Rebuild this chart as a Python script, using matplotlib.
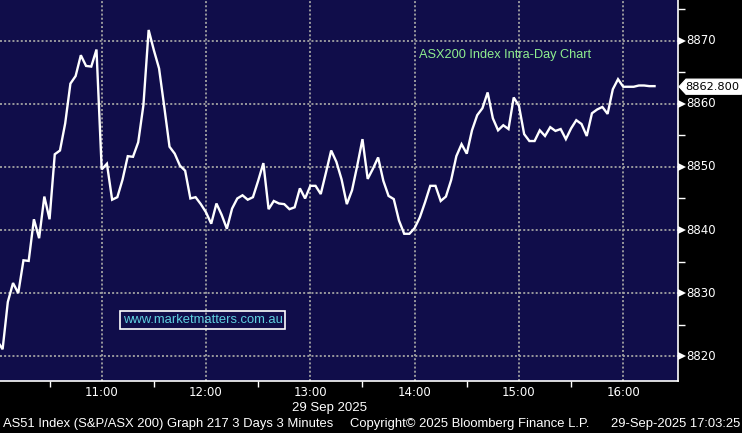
import numpy as np
import matplotlib
matplotlib.use("Agg")
import matplotlib.pyplot as plt
from matplotlib.patches import Polygon, Rectangle
import matplotlib.transforms as mtransforms

# ---- data ----
start_minute = 600          # 10:00
step_minutes = 3
values = [
    8822.4, 8821.1, 8828.6, 8831.6, 8830.0, 8835.2, 8835.1, 8841.7, 8838.7, 8845.3,
    8841.7, 8852.0, 8852.6, 8856.9, 8863.2, 8864.4, 8867.7, 8866.0, 8865.9, 8868.6,
    8849.6, 8850.5, 8844.8, 8845.2, 8848.0, 8851.7, 8851.6, 8853.9, 8859.8, 8871.7,
    8868.5, 8865.6, 8859.5, 8853.2, 8852.1, 8850.2, 8849.4, 8845.0, 8845.2, 8844.1,
    8842.8, 8841.0, 8844.2, 8842.4, 8840.2, 8843.4, 8845.0, 8845.5, 8844.8, 8845.2,
    8847.8, 8850.6, 8843.3, 8844.6, 8844.2, 8844.1, 8843.3, 8843.6, 8846.6, 8845.0,
    8847.0, 8847.0, 8845.7, 8849.1, 8852.6, 8850.8, 8848.0, 8844.1, 8846.3, 8850.2,
    8854.4, 8848.1, 8849.7, 8851.5, 8847.8, 8845.4, 8844.9, 8841.5, 8839.4, 8839.4,
    8840.3, 8842.0, 8844.4, 8847.0, 8847.0, 8844.6, 8845.3, 8847.9, 8851.7, 8853.6,
    8852.1, 8855.8, 8858.2, 8859.3, 8861.8, 8857.7, 8855.8, 8856.6, 8856.0, 8861.0,
    8859.7, 8855.2, 8854.1, 8854.1, 8855.8, 8854.9, 8856.3, 8855.7, 8856.0, 8854.4,
    8856.1, 8857.4, 8856.8, 8854.9, 8858.5, 8859.1, 8859.5, 8858.4, 8862.3, 8863.9,
    8862.7, 8862.7, 8862.7, 8862.9, 8862.9, 8862.8, 8862.8,
]
last_price = 8862.8
hour_ticks = [660, 720, 780, 840, 900, 960]
hour_labels = ["11:00", "12:00", "13:00", "14:00", "15:00", "16:00"]
half_hour_ticks = [630, 690, 750, 810, 870, 930]
y_major = [8820, 8830, 8840, 8850, 8860, 8870]
y_minor = [8825, 8835, 8845, 8855, 8865, 8875]

times = start_minute + step_minutes * np.arange(len(values))

W, H = 742, 433
fig = plt.figure(figsize=(W / 100, H / 100), dpi=100)
fig.patch.set_facecolor("black")

ax_left, ax_right, ax_top, ax_bottom = 0, 678, 0, 381
ax = fig.add_axes([ax_left / W, (H - ax_bottom) / H, (ax_right - ax_left) / W, (ax_bottom - ax_top) / H])
ax.set_facecolor("#100d4a")

ax.set_xlim(601.5, 991.5)
ax.set_ylim(8816.07, 8876.45)

grid_kw = dict(color="#a3a3a3", lw=1.3, dashes=(1.1, 1.2), zorder=1)
for t in hour_ticks:
    ax.axvline(t, **grid_kw)
for v in y_major:
    ax.axhline(v, **grid_kw)

ax.plot(times, values, color="white", lw=1.7, solid_joinstyle="miter", zorder=3)

for s in ["top", "left"]:
    ax.spines[s].set_visible(False)
for s in ["bottom", "right"]:
    ax.spines[s].set_color("white")
    ax.spines[s].set_linewidth(1.2)

tick_font = dict(fontsize=8.5, family="DejaVu Sans")

# x axis
ax.set_xticks(half_hour_ticks)
ax.set_xticklabels([])
ax.tick_params(axis="x", which="major", direction="out", length=4, width=1, color="white")
for t, lab in zip(hour_ticks, hour_labels):
    ax.text(t, -0.012, lab, transform=ax.get_xaxis_transform(), ha="center", va="top",
            color="white", **tick_font)

# y axis: right side, arrow markers for major, short lines for minor
ax.yaxis.tick_right()
ax.set_yticks(y_minor)
ax.set_yticklabels([])
ax.tick_params(axis="y", which="major", direction="out", length=5, width=1, color="white")
btr = mtransforms.blended_transform_factory(ax.transAxes, ax.transData)
for v in y_major:
    ax.plot([1.006], [v], marker=">", markersize=5.5, color="white", transform=btr, clip_on=False,
            markeredgewidth=0)
    ax.plot([1.0, 1.006], [v, v], color="white", lw=1, transform=btr, clip_on=False)
    ax.text(1.012, v, str(v), transform=btr, ha="left", va="center", color="white", **tick_font)

# last price label
yc = (H - 86.7) / H
hh = 7.6 / H
poly = Polygon([[679 / W, yc], [686 / W, yc + hh], [741.5 / W, yc + hh], [741.5 / W, yc - hh], [686 / W, yc - hh]],
               closed=True, transform=fig.transFigure, facecolor="white", edgecolor="white", lw=0.8,
               clip_on=False)
fig.patches.append(poly)
fig.text(685.5 / W, yc, f"{last_price:.3f}", ha="left", va="center", color="black",
         fontsize=8.2, family="DejaVu Sans")

# title
ax.text(419 / 678, 1 - 55 / 381, "ASX200 Index Intra-Day Chart", transform=ax.transAxes,
        ha="left", va="center", color="#8fee8f", fontsize=9.2, family="Liberation Sans")

# watermark
rect = Rectangle((120 / W, (H - 329.3) / H), 165 / W, 18.6 / H, transform=fig.transFigure,
                 facecolor="none", edgecolor="white", lw=1.2)
fig.patches.append(rect)
fig.text(202.5 / W, (H - 320) / H, "www.marketmatters.com.au", ha="center", va="center",
         color="#5fd0e0", fontsize=9.4, family="Liberation Sans")

# bottom texts
fig.text(330 / W, (H - 408) / H, "29 Sep 2025", ha="center", va="center", color="white",
         fontsize=9.5, family="Liberation Sans")
fig.text(3 / W, (H - 424) / H, "AS51 Index (S&P/ASX 200) Graph 217 3 Days 3 Minutes", ha="left",
         va="center", color="white", fontsize=9.4, family="Liberation Sans")
fig.text(350 / W, (H - 424) / H, "Copyright\u00a9 2025 Bloomberg Finance L.P.", ha="left",
         va="center", color="white", fontsize=9.4, family="Liberation Sans")
fig.text(740 / W, (H - 424) / H, "29-Sep-2025 17:03:25", ha="right", va="center", color="white",
         fontsize=9.4, family="Liberation Sans")

fig.savefig("out.png", dpi=100, facecolor=fig.get_facecolor())
